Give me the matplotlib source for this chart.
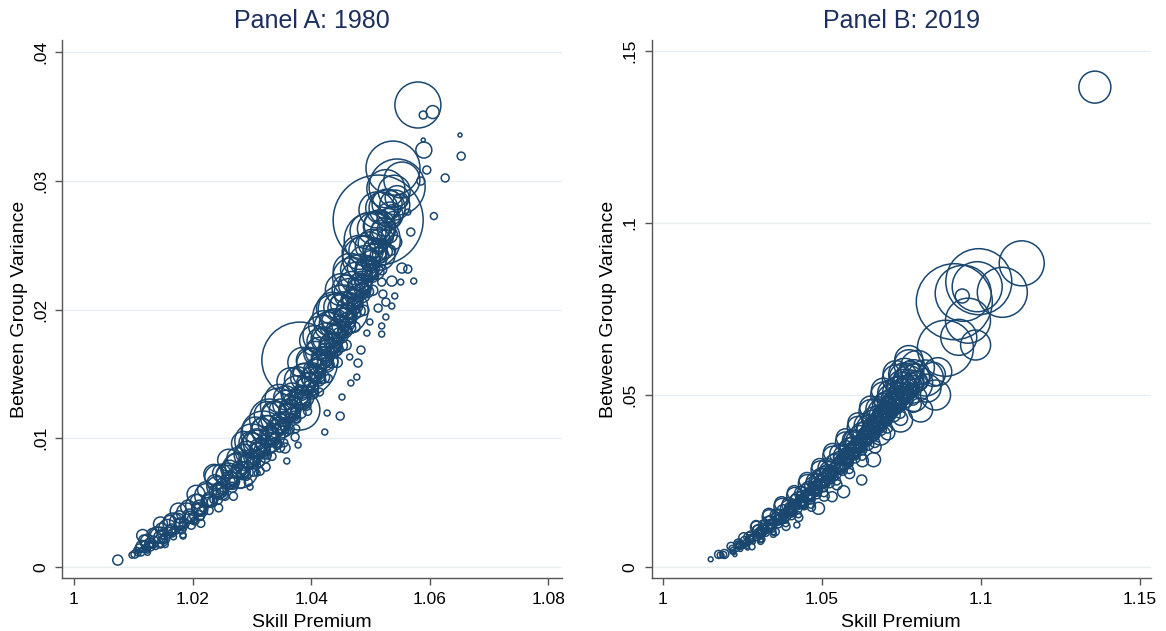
import numpy as np
import matplotlib.pyplot as plt

plt.rcParams['font.family'] = ['Liberation Sans', 'DejaVu Sans']

navy = '#1a476f'
title_color = '#1c2f5e'
grid_color = '#e6eef0'
axis_color = '#555555'

# ---------------- Panel A: 1980 ----------------
# scattered / outlying cells
prem80_out = [1.0074, 1.0098, 1.0103, 1.0108, 1.0113, 1.0118, 1.0124, 1.0128, 1.0134, 1.0146,
              1.0150, 1.0172, 1.0184, 1.0204, 1.0214, 1.0297, 1.0309, 1.0324, 1.0359, 1.0347,
              1.0356, 1.0373, 1.0378, 1.0423, 1.0427, 1.0449, 1.0452, 1.0467, 1.0477, 1.0465,
              1.0479, 1.0484, 1.0494, 1.0519, 1.0519, 1.0499, 1.0526, 1.0513, 1.0526, 1.0536,
              1.0541, 1.0521, 1.0519, 1.0536, 1.0551, 1.0573, 1.0563, 1.0553, 1.0541, 1.0568,
              1.0563, 1.0607, 1.0585, 1.0626, 1.0595, 1.0589, 1.0590, 1.0653, 1.0651, 1.0589,
              1.0605, 1.0580]
var80_out = [.00054, .00093, .00101, .00109, .00117, .00140, .00132, .00163, .00179, .00171,
             .00210, .00287, .00241, .00358, .00389, .00622, .00730, .00777, .00824, .00932,
             .00925, .01010, .00948, .01049, .01197, .01173, .01321, .01430, .01476, .01632,
             .01585, .01686, .01818, .01810, .01873, .01904, .01943, .02012, .02059, .02028,
             .02106, .02121, .02214, .02222, .02214, .02222, .02315, .02323, .02525, .02603,
             .02758, .02727, .02999, .03023, .03085, .03318, .03240, .03193, .03357, .03512,
             .03535, .03590]
wt80_out = [25, 9, 16, 9, 16, 9, 9, 25, 16, 9,
            16, 16, 9, 16, 9, 9, 9, 16, 9, 25,
            25, 16, 9, 9, 9, 16, 9, 9, 9, 9,
            16, 16, 9, 9, 9, 9, 9, 16, 16, 9,
            9, 16, 16, 25, 9, 9, 16, 25, 49, 16,
            9, 12, 16, 16, 16, 4, 64, 16, 4, 16,
            42, 529]

# large cells
prem80_big = [1.0145, 1.0167, 1.0241, 1.0260, 1.0280, 1.0302, 1.0319, 1.0381, 1.0381, 1.0454,
              1.0503, 1.0513, 1.0538, 1.0545, 1.0553, 1.0541, 1.0516,
              1.0330, 1.0300, 1.0345, 1.0420, 1.0440, 1.0470, 1.0490]
var80_big = [.00233, .00342, .00699, .00715, .00754, .00948, .01041, .01220, .01608, .01997,
             .02541, .02696, .03100, .02953, .03007, .02813, .02424,
             .01150, .00980, .01250, .01800, .01950, .02250, .02400]
wt80_big = [100, 100, 144, 144, 324, 144, 484, 400, 1444, 625,
            784, 2025, 729, 784, 324, 225, 225,
            400, 289, 324, 400, 484, 400, 484]

# dense core along the curve
prem80_core = [
    1.0110, 1.0115, 1.0106,
    1.0128, 1.0132, 1.0124,
    1.0145, 1.0150, 1.0140, 1.0152,
    1.0162, 1.0158, 1.0166, 1.0168,
    1.0179, 1.0175, 1.0184, 1.0186,
    1.0195, 1.0190, 1.0200, 1.0202,
    1.0212, 1.0207, 1.0217, 1.0219, 1.0210,
    1.0229, 1.0224, 1.0233, 1.0236, 1.0227,
    1.0246, 1.0241, 1.0250, 1.0253, 1.0244, 1.0248,
    1.0263, 1.0258, 1.0268, 1.0271, 1.0260, 1.0266,
    1.0280, 1.0275, 1.0285, 1.0289, 1.0278, 1.0283, 1.0291,
    1.0297, 1.0292, 1.0302, 1.0306, 1.0295, 1.0300, 1.0308,
    1.0314, 1.0309, 1.0319, 1.0323, 1.0312, 1.0317, 1.0326,
    1.0330, 1.0325, 1.0335, 1.0339, 1.0328, 1.0333, 1.0342,
    1.0347, 1.0342, 1.0352, 1.0356, 1.0345, 1.0350, 1.0359,
    1.0364, 1.0359, 1.0369, 1.0373, 1.0362, 1.0367, 1.0376,
    1.0381, 1.0376, 1.0386, 1.0390, 1.0379, 1.0384, 1.0393,
    1.0394, 1.0389, 1.0399, 1.0403, 1.0392, 1.0397, 1.0406,
    1.0406, 1.0401, 1.0411, 1.0415, 1.0404, 1.0409, 1.0418,
    1.0419, 1.0414, 1.0424, 1.0428, 1.0417, 1.0422,
    1.0432, 1.0427, 1.0437, 1.0441, 1.0430, 1.0435,
    1.0444, 1.0439, 1.0449, 1.0453, 1.0442, 1.0447,
    1.0457, 1.0452, 1.0462, 1.0466, 1.0455, 1.0460,
    1.0469, 1.0464, 1.0474, 1.0478, 1.0467, 1.0472,
    1.0482, 1.0477, 1.0487, 1.0491, 1.0480, 1.0485,
    1.0495, 1.0490, 1.0500, 1.0498, 1.0493,
    1.0508, 1.0503, 1.0513, 1.0511, 1.0506,
    1.0520, 1.0515, 1.0525, 1.0523,
    1.0533, 1.0528, 1.0538, 1.0536,
    1.0545, 1.0540, 1.0550]
var80_core = [
    .00148, .00160, .00130,
    .00186, .00170, .00200,
    .00233, .00215, .00250, .00240,
    .00284, .00300, .00265, .00290,
    .00334, .00355, .00315, .00340,
    .00396, .00420, .00375, .00395,
    .00458, .00480, .00435, .00455, .00445,
    .00528, .00555, .00505, .00525, .00515,
    .00598, .00625, .00570, .00590, .00585, .00610,
    .00676, .00705, .00650, .00665, .00660, .00690,
    .00754, .00790, .00725, .00740, .00740, .00770, .00705,
    .00840, .00875, .00810, .00825, .00825, .00855, .00790,
    .00925, .00965, .00895, .00905, .00910, .00945, .00870,
    .01020, .01060, .00990, .01000, .01005, .01040, .00960,
    .01119, .01160, .01085, .01095, .01100, .01140, .01050,
    .01220, .01265, .01185, .01195, .01205, .01245, .01150,
    .01321, .01370, .01285, .01295, .01305, .01350, .01250,
    .01426, .01475, .01390, .01400, .01410, .01455, .01350,
    .01531, .01580, .01495, .01505, .01515, .01560, .01455,
    .01628, .01675, .01590, .01600, .01610, .01655,
    .01725, .01775, .01690, .01700, .01710, .01755,
    .01841, .01890, .01800, .01815, .01825, .01870,
    .01958, .02010, .01920, .01930, .01940, .01985,
    .02075, .02125, .02035, .02045, .02060, .02100,
    .02191, .02245, .02150, .02160, .02175, .02220,
    .02327, .02380, .02285, .02350, .02310,
    .02463, .02515, .02420, .02490, .02445,
    .02600, .02650, .02560, .02625,
    .02735, .02790, .02700, .02760,
    .02870, .02920, .02840]
wt80_core = [
    16, 36, 9,
    25, 9, 49,
    36, 16, 64, 9,
    25, 81, 16, 9,
    36, 64, 16, 25,
    49, 100, 25, 16,
    64, 121, 25, 16, 36,
    49, 144, 25, 16, 36,
    64, 100, 36, 16, 49, 25,
    81, 121, 36, 25, 49, 36,
    81, 144, 36, 25, 49, 36, 16,
    81, 169, 36, 25, 64, 36, 16,
    100, 196, 49, 25, 64, 36, 16,
    100, 225, 49, 25, 64, 36, 16,
    100, 256, 49, 25, 64, 36, 16,
    121, 196, 49, 25, 81, 49, 16,
    121, 225, 64, 25, 81, 49, 16,
    121, 196, 64, 25, 81, 49, 16,
    121, 225, 64, 25, 81, 49, 16,
    121, 196, 64, 25, 81, 49,
    121, 256, 64, 25, 81, 49,
    121, 225, 64, 25, 81, 49,
    121, 196, 64, 25, 81, 49,
    121, 225, 64, 25, 81, 49,
    144, 256, 64, 25, 100, 49,
    144, 225, 64, 49, 100,
    144, 196, 64, 49, 81,
    144, 256, 64, 49,
    169, 324, 64, 49,
    144, 256, 49]

# cells spread across the width of the band
prem80_fill = [
    1.0116, 1.0118, 1.0120, 1.0122, 1.0124,
    1.0146, 1.0148, 1.0150, 1.0152, 1.0154,
    1.0176, 1.0178, 1.0180, 1.0182, 1.0184,
    1.0206, 1.0208, 1.0210, 1.0212, 1.0214,
    1.0236, 1.0238, 1.0240, 1.0242, 1.0244,
    1.0261, 1.0263, 1.0265, 1.0267, 1.0269,
    1.0286, 1.0288, 1.0290, 1.0292, 1.0294,
    1.0306, 1.0308, 1.0310, 1.0312, 1.0314,
    1.0326, 1.0328, 1.0330, 1.0332, 1.0334,
    1.0346, 1.0348, 1.0350, 1.0352, 1.0354,
    1.0366, 1.0368, 1.0370, 1.0372, 1.0374,
    1.0386, 1.0388, 1.0390, 1.0392, 1.0394,
    1.0406, 1.0408, 1.0410, 1.0412, 1.0414,
    1.0421, 1.0423, 1.0425, 1.0427, 1.0429,
    1.0436, 1.0438, 1.0440, 1.0442, 1.0444,
    1.0451, 1.0453, 1.0455, 1.0457, 1.0459,
    1.0466, 1.0468, 1.0470, 1.0472, 1.0474,
    1.0481, 1.0483, 1.0485, 1.0487, 1.0489,
    1.0496, 1.0498, 1.0500, 1.0502, 1.0504,
    1.0511, 1.0513, 1.0515, 1.0517, 1.0519,
    1.0526, 1.0528, 1.0530, 1.0532, 1.0534,
    1.0132, 1.0135, 1.0138,
    1.0162, 1.0165, 1.0168,
    1.0192, 1.0195, 1.0198,
    1.0222, 1.0225, 1.0228,
    1.0249, 1.0252, 1.0255,
    1.0275, 1.0278, 1.0281,
    1.0297, 1.0300, 1.0303,
    1.0317, 1.0320, 1.0323,
    1.0337, 1.0340, 1.0343,
    1.0357, 1.0360, 1.0363,
    1.0377, 1.0380, 1.0383,
    1.0397, 1.0400, 1.0403,
    1.0415, 1.0418, 1.0421,
    1.0429, 1.0432, 1.0435,
    1.0445, 1.0448, 1.0451,
    1.0459, 1.0462, 1.0465,
    1.0475, 1.0478, 1.0481,
    1.0489, 1.0492, 1.0495,
    1.0505, 1.0508, 1.0511,
    1.0519, 1.0522, 1.0525]
var80_fill = [
    .00245, .00210, .00175, .00140, .00115,
    .00335, .00295, .00255, .00215, .00175,
    .00435, .00390, .00340, .00290, .00250,
    .00565, .00510, .00455, .00400, .00340,
    .00720, .00655, .00590, .00525, .00460,
    .00830, .00760, .00690, .00620, .00550,
    .00960, .00885, .00810, .00735, .00660,
    .01065, .00985, .00905, .00825, .00745,
    .01185, .01100, .01020, .00940, .00860,
    .01310, .01220, .01135, .01050, .00965,
    .01440, .01345, .01255, .01165, .01075,
    .01590, .01495, .01400, .01305, .01210,
    .01760, .01660, .01560, .01460, .01360,
    .01875, .01770, .01670, .01570, .01465,
    .02010, .01905, .01800, .01695, .01590,
    .02155, .02045, .01940, .01835, .01725,
    .02305, .02195, .02085, .01975, .01865,
    .02445, .02330, .02220, .02110, .01995,
    .02610, .02495, .02380, .02265, .02150,
    .02775, .02655, .02540, .02425, .02310,
    .02940, .02820, .02700, .02580, .02460,
    .00260, .00210, .00160,
    .00355, .00295, .00235,
    .00465, .00395, .00325,
    .00600, .00520, .00440,
    .00730, .00640, .00550,
    .00850, .00750, .00650,
    .00965, .00855, .00745,
    .01070, .00960, .00850,
    .01195, .01075, .00955,
    .01315, .01195, .01075,
    .01455, .01325, .01195,
    .01605, .01475, .01345,
    .01755, .01615, .01475,
    .01875, .01735, .01595,
    .02020, .01870, .01720,
    .02160, .02010, .01860,
    .02310, .02150, .01990,
    .02460, .02300, .02140,
    .02630, .02460, .02290,
    .02790, .02620, .02450]
wt80_fill = [
    36, 25, 16, 9, 9,
    49, 36, 25, 16, 9,
    64, 36, 25, 16, 9,
    81, 49, 36, 25, 16,
    100, 64, 49, 25, 16,
    121, 81, 49, 25, 16,
    144, 81, 64, 36, 16,
    169, 100, 64, 36, 16,
    169, 100, 64, 36, 16,
    196, 121, 81, 36, 16,
    196, 121, 81, 36, 16,
    225, 121, 81, 49, 16,
    225, 144, 81, 49, 16,
    225, 144, 81, 49, 16,
    256, 144, 100, 49, 25,
    256, 144, 100, 49, 25,
    289, 169, 100, 49, 25,
    289, 169, 100, 49, 25,
    324, 196, 100, 49, 25,
    324, 196, 121, 64, 25,
    361, 225, 121, 64, 25,
    25, 16, 9,
    36, 25, 9,
    49, 25, 16,
    64, 36, 16,
    81, 49, 16,
    100, 49, 25,
    121, 64, 25,
    121, 64, 25,
    144, 81, 25,
    144, 81, 25,
    169, 81, 25,
    169, 100, 25,
    169, 100, 36,
    196, 100, 36,
    196, 100, 36,
    196, 121, 36,
    225, 121, 36,
    225, 121, 36,
    256, 144, 49,
    256, 144, 49]

# ---------------- Panel B: 2019 ----------------
prem19_out = [1.0150, 1.0193, 1.0191, 1.0217, 1.0233, 1.0252, 1.0280, 1.0268, 1.0296, 1.0311,
              1.0331, 1.0353, 1.0384, 1.0409, 1.0421, 1.0489, 1.0484, 1.0505, 1.0579, 1.0600,
              1.0662, 1.0625, 1.0568, 1.0532]
var19_out = [.00224, .00378, .00360, .00436, .00514, .00610, .00589, .00735, .00880, .00802,
             .01172, .01027, .01512, .01802, .01221, .01706, .02471, .02713, .03247, .03682,
             .03119, .02529, .02189, .02044]
wt19_out = [6, 20, 9, 4, 4, 6, 9, 9, 16, 9,
            25, 16, 36, 25, 9, 36, 64, 49, 64, 100,
            49, 25, 36, 25]

prem19_big = [1.1358, 1.0916, 1.0993, 1.0944, 1.0988, 1.1067, 1.1128, 1.0941, 1.0959, 1.0930,
              1.0983, 1.0888, 1.0864, 1.0857, 1.0825, 1.0785, 1.0810, 1.0747, 1.0684,
              1.0800, 1.0830, 1.0760, 1.0790, 1.0850]
var19_big = [.1395, .07712, .08294, .07956, .08148, .07985, .08828, .07878, .07160, .06677,
             .06453, .06358, .05677, .05000, .05494, .05349, .04564, .04273, .03837,
             .05800, .05200, .05600, .04900, .05600]
wt19_big = [256, 1444, 1089, 784, 625, 625, 506, 49, 506, 324,
            225, 784, 196, 225, 324, 400, 144, 144, 100,
            289, 196, 256, 169, 144]

prem19_core = [
    1.0180, 1.0186, 1.0175,
    1.0243, 1.0238, 1.0248, 1.0240,
    1.0275, 1.0270, 1.0280, 1.0272,
    1.0306, 1.0301, 1.0311, 1.0303, 1.0309,
    1.0337, 1.0332, 1.0342, 1.0334, 1.0340,
    1.0369, 1.0364, 1.0374, 1.0366, 1.0372, 1.0378,
    1.0400, 1.0395, 1.0405, 1.0397, 1.0403, 1.0409,
    1.0432, 1.0427, 1.0437, 1.0429, 1.0435, 1.0441,
    1.0456, 1.0451, 1.0461, 1.0453, 1.0459, 1.0465,
    1.0479, 1.0474, 1.0484, 1.0476, 1.0482, 1.0488,
    1.0503, 1.0498, 1.0508, 1.0500, 1.0506, 1.0512,
    1.0526, 1.0521, 1.0531, 1.0523, 1.0529, 1.0535,
    1.0550, 1.0545, 1.0555, 1.0547, 1.0553, 1.0559,
    1.0573, 1.0568, 1.0578, 1.0570, 1.0576, 1.0582,
    1.0594, 1.0589, 1.0599, 1.0591, 1.0597, 1.0603,
    1.0614, 1.0609, 1.0619, 1.0611, 1.0617, 1.0623,
    1.0633, 1.0628, 1.0638, 1.0630, 1.0636, 1.0642,
    1.0652, 1.0647, 1.0657, 1.0649, 1.0655, 1.0661,
    1.0671, 1.0666, 1.0676, 1.0668, 1.0674, 1.0680,
    1.0690, 1.0685, 1.0695, 1.0687, 1.0693, 1.0699,
    1.0708, 1.0703, 1.0713, 1.0705, 1.0711, 1.0717,
    1.0725, 1.0720, 1.0730, 1.0722, 1.0728, 1.0734,
    1.0743, 1.0738, 1.0748, 1.0740, 1.0746,
    1.0762, 1.0757, 1.0767, 1.0764,
    1.0778, 1.0773, 1.0783,
    1.0794, 1.0789, 1.0800]
var19_core = [
    .00349, .00330, .00365,
    .00640, .00670, .00615, .00620,
    .00830, .00865, .00800, .00810,
    .01017, .01060, .00985, .00995, .01040,
    .01220, .01265, .01185, .01195, .01245,
    .01424, .01475, .01385, .01400, .01455, .01360,
    .01655, .01710, .01610, .01630, .01685, .01580,
    .01890, .01950, .01845, .01865, .01920, .01810,
    .02095, .02155, .02045, .02070, .02125, .02010,
    .02297, .02360, .02245, .02270, .02330, .02210,
    .02515, .02580, .02460, .02490, .02550, .02420,
    .02733, .02800, .02680, .02705, .02770, .02640,
    .02950, .03020, .02890, .02920, .02990, .02850,
    .03169, .03240, .03110, .03140, .03210, .03060,
    .03370, .03440, .03310, .03340, .03410, .03260,
    .03576, .03650, .03510, .03545, .03620, .03460,
    .03780, .03855, .03710, .03750, .03820, .03660,
    .03983, .04060, .03910, .03950, .04030, .03850,
    .04200, .04280, .04130, .04170, .04250, .04060,
    .04419, .04500, .04340, .04390, .04470, .04280,
    .04610, .04690, .04530, .04580, .04660, .04460,
    .04797, .04880, .04720, .04770, .04850, .04650,
    .05000, .05080, .04920, .04970, .05050,
    .05203, .05280, .05120, .05250,
    .05350, .05420, .05280,
    .05494, .05560, .05400]
wt19_core = [
    9, 4, 16,
    16, 25, 9, 9,
    16, 25, 9, 16,
    25, 36, 16, 9, 16,
    25, 49, 16, 9, 25,
    25, 49, 16, 16, 25, 9,
    36, 64, 25, 16, 25, 16,
    36, 64, 25, 25, 36, 16,
    36, 81, 25, 25, 36, 16,
    49, 81, 25, 25, 36, 16,
    49, 100, 25, 36, 36, 16,
    49, 81, 25, 36, 36, 25,
    49, 100, 36, 36, 49, 25,
    64, 100, 36, 36, 49, 25,
    64, 121, 36, 49, 49, 25,
    64, 121, 36, 49, 49, 25,
    64, 144, 36, 49, 64, 25,
    81, 144, 49, 49, 64, 36,
    81, 169, 49, 64, 64, 36,
    100, 169, 49, 64, 81, 36,
    100, 196, 64, 64, 81, 36,
    121, 225, 64, 81, 100, 49,
    144, 225, 81, 100, 121,
    144, 256, 81, 121,
    169, 225, 100,
    196, 256, 100]

prem19_fill = [
    1.0214, 1.0217, 1.0220, 1.0223, 1.0226,
    1.0254, 1.0257, 1.0260, 1.0263, 1.0266,
    1.0294, 1.0297, 1.0300, 1.0303, 1.0306,
    1.0334, 1.0337, 1.0340, 1.0343, 1.0346,
    1.0374, 1.0377, 1.0380, 1.0383, 1.0386,
    1.0414, 1.0417, 1.0420, 1.0423, 1.0426,
    1.0454, 1.0457, 1.0460, 1.0463, 1.0466,
    1.0494, 1.0497, 1.0500, 1.0503, 1.0506,
    1.0534, 1.0537, 1.0540, 1.0543, 1.0546,
    1.0574, 1.0577, 1.0580, 1.0583, 1.0586,
    1.0614, 1.0617, 1.0620, 1.0623, 1.0626,
    1.0654, 1.0657, 1.0660, 1.0663, 1.0666,
    1.0694, 1.0697, 1.0700, 1.0703, 1.0706,
    1.0734, 1.0737, 1.0740, 1.0743, 1.0746,
    1.0774, 1.0777, 1.0780, 1.0783, 1.0786,
    1.0236, 1.0240, 1.0244,
    1.0276, 1.0280, 1.0284,
    1.0316, 1.0320, 1.0324,
    1.0356, 1.0360, 1.0364,
    1.0396, 1.0400, 1.0404,
    1.0436, 1.0440, 1.0444,
    1.0476, 1.0480, 1.0484,
    1.0516, 1.0520, 1.0524,
    1.0556, 1.0560, 1.0564,
    1.0596, 1.0600, 1.0604,
    1.0636, 1.0640, 1.0644,
    1.0676, 1.0680, 1.0684,
    1.0716, 1.0720, 1.0724,
    1.0756, 1.0760, 1.0764,
    1.0293, 1.0307, 1.0333, 1.0347, 1.0373, 1.0387, 1.0413, 1.0427,
    1.0453, 1.0467, 1.0493, 1.0507, 1.0533, 1.0547, 1.0573, 1.0587,
    1.0613, 1.0627, 1.0653, 1.0667, 1.0693, 1.0707, 1.0733, 1.0747,
    1.0773, 1.0787,
    1.0318, 1.0322, 1.0358, 1.0362, 1.0398, 1.0402, 1.0438, 1.0442,
    1.0478, 1.0482, 1.0518, 1.0522, 1.0558, 1.0562, 1.0598, 1.0602,
    1.0638, 1.0642, 1.0678, 1.0682, 1.0718, 1.0722, 1.0758, 1.0762]
var19_fill = [
    .00600, .00540, .00480, .00420, .00360,
    .00850, .00775, .00700, .00625, .00550,
    .01155, .01065, .00975, .00885, .00795,
    .01460, .01350, .01240, .01130, .01020,
    .01760, .01635, .01510, .01385, .01260,
    .02080, .01940, .01800, .01660, .01520,
    .02425, .02275, .02125, .01975, .01825,
    .02820, .02655, .02490, .02325, .02160,
    .03220, .03040, .02860, .02680, .02500,
    .03635, .03435, .03235, .03035, .02835,
    .04060, .03850, .03640, .03430, .03220,
    .04520, .04295, .04070, .03845, .03620,
    .05000, .04760, .04520, .04280, .04040,
    .05470, .05220, .04970, .04720, .04470,
    .05880, .05630, .05380, .05130, .04880,
    .00670, .00590, .00510,
    .00930, .00830, .00730,
    .01220, .01100, .00980,
    .01510, .01370, .01230,
    .01810, .01650, .01490,
    .02140, .01960, .01780,
    .02500, .02300, .02100,
    .02890, .02670, .02450,
    .03290, .03050, .02810,
    .03690, .03430, .03170,
    .04130, .03850, .03570,
    .04600, .04300, .04000,
    .05060, .04740, .04420,
    .05520, .05180, .04840,
    .01205, .00745, .01530, .00950, .01840, .01180, .02160, .01440,
    .02515, .01735, .02920, .02060, .03330, .02390, .03755, .02715,
    .04190, .03090, .04650, .03490, .05140, .03900, .05620, .04320,
    .06030, .04730,
    .01160, .01040, .01440, .01300, .01730, .01570, .02050, .01870,
    .02400, .02200, .02780, .02560, .03170, .02930, .03560, .03300,
    .03990, .03710, .04450, .04150, .04900, .04580, .05350, .05010]
wt19_fill = [
    16, 9, 9, 4, 4,
    25, 16, 9, 9, 4,
    36, 25, 16, 9, 9,
    49, 25, 16, 16, 9,
    64, 36, 25, 16, 9,
    64, 36, 25, 16, 9,
    81, 49, 25, 25, 16,
    81, 49, 36, 25, 16,
    100, 64, 36, 25, 16,
    100, 64, 49, 25, 16,
    121, 81, 49, 36, 16,
    144, 81, 49, 36, 25,
    169, 100, 64, 36, 25,
    196, 121, 64, 49, 25,
    225, 144, 81, 49, 36,
    9, 9, 4,
    16, 9, 4,
    25, 16, 9,
    36, 25, 9,
    49, 25, 16,
    49, 36, 16,
    64, 36, 16,
    81, 49, 25,
    100, 49, 25,
    100, 64, 25,
    121, 64, 36,
    144, 81, 36,
    169, 100, 49,
    196, 121, 49,
    25, 9, 36, 9, 49, 16, 49, 16,
    64, 16, 64, 25, 81, 25, 81, 25,
    100, 36, 121, 36, 144, 49, 169, 49,
    196, 64,
    16, 9, 25, 9, 25, 16, 36, 16,
    36, 25, 49, 25, 49, 25, 64, 36,
    81, 36, 81, 49, 100, 49, 121, 64]


def bubble_panel(ax, x, y, w, title, xticks, xticklabels, yticks, yticklabels, xlim, ylim):
    # weights ~ bubble area (px^2 at 100 dpi) -> points^2
    s = np.array(w, dtype=float) * (2 * 0.72) ** 2
    for yt in yticks:
        ax.axhline(yt, color=grid_color, lw=1.0, zorder=0)
    ax.scatter(x, y, s=s, facecolors='none', edgecolors=navy, linewidths=1.1, zorder=2)
    ax.set_xlim(xlim)
    ax.set_ylim(ylim)
    ax.set_xticks(xticks)
    ax.set_xticklabels(xticklabels)
    ax.set_yticks(yticks)
    ax.set_yticklabels(yticklabels, rotation=90, va='center')
    for side in ['top', 'right']:
        ax.spines[side].set_visible(False)
    for side in ['left', 'bottom']:
        ax.spines[side].set_color(axis_color)
        ax.spines[side].set_linewidth(1.0)
    ax.tick_params(axis='both', direction='out', length=5, width=1.0, color=axis_color,
                   labelsize=12.5, pad=5)
    ax.set_xlabel('Skill Premium', fontsize=14, labelpad=5)
    ax.set_ylabel('Between Group Variance', fontsize=14, labelpad=4)
    ax.set_title(title, fontsize=18, color=title_color, pad=9)


fig = plt.figure(figsize=(11.66, 6.31), dpi=100)
ax1 = fig.add_axes([0.0532, 0.084, 0.4288, 0.8526])
ax2 = fig.add_axes([0.5589, 0.084, 0.4280, 0.8526])

bubble_panel(ax1,
             prem80_out + prem80_big + prem80_core + prem80_fill,
             var80_out + var80_big + var80_core + var80_fill,
             wt80_out + wt80_big + wt80_core + wt80_fill,
             'Panel A: 1980',
             [1, 1.02, 1.04, 1.06, 1.08], ['1', '1.02', '1.04', '1.06', '1.08'],
             [0, .01, .02, .03, .04], ['0', '.01', '.02', '.03', '.04'],
             (0.998, 1.0823), (-0.00085, 0.04095))

bubble_panel(ax2,
             prem19_out + prem19_big + prem19_core + prem19_fill,
             var19_out + var19_big + var19_core + var19_fill,
             wt19_out + wt19_big + wt19_core + wt19_fill,
             'Panel B: 2019',
             [1, 1.05, 1.1, 1.15], ['1', '1.05', '1.1', '1.15'],
             [0, .05, .1, .15], ['0', '.05', '.1', '.15'],
             (0.99645, 1.15336), (-0.0032, 0.1532))

plt.savefig('out.png', dpi=100)
